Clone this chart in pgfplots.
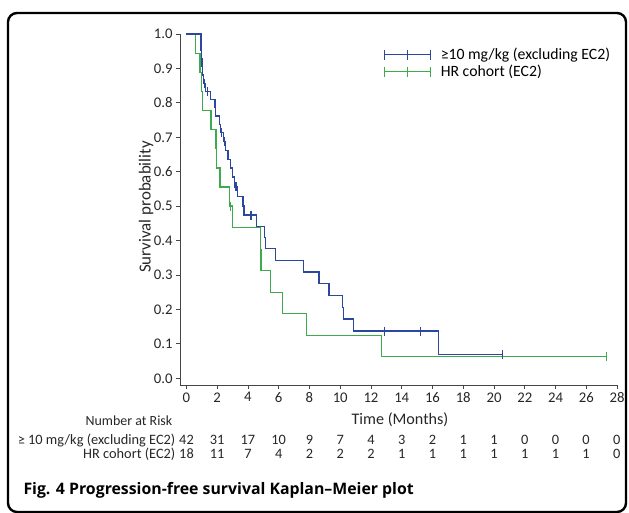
\documentclass[border=0pt]{standalone}
\usepackage{fontspec}
\setmainfont{Carlito}
\newfontfamily\capfont{Open Sans}
\usepackage{pgfplots}
\pgfplotsset{compat=1.18}
\definecolor{kmblue}{RGB}{44,72,158}
\definecolor{kmgreen}{RGB}{62,170,78}
\definecolor{axgray}{RGB}{70,70,70}
\newcommand{\tf}{\fontsize{14.8}{17}\selectfont}
\newcommand{\rf}{\fontsize{14.4}{16}\selectfont}
\begin{document}
\begin{tikzpicture}[x=1bp,y=1bp]
\useasboundingbox (0,0) rectangle (629,513);
\draw[line width=2.4bp, rounded corners=9bp] (8,1) rectangle (626,500);
\begin{axis}[
  at={(180bp,128bp)}, anchor=south west, scale only axis,
  width=437bp, height=351bp,
  xmin=-0.42, xmax=28, ymin=-0.0195, ymax=1,
  axis x line*=bottom, axis y line*=left,
  axis line style={axgray, line width=0.8bp, -},
  tick style={axgray, line width=0.8bp},
  tick align=outside, major tick length=4bp,
  xtick={0,2,4,6,8,10,12,14,16,18,20,22,24,26,28},
  ytick={0,0.1,0.2,0.3,0.4,0.5,0.6,0.7,0.8,0.9,1},
  /pgf/number format/assume math mode=true,
  ticklabel style={font=\tf, text=black!85},
  yticklabel style={/pgf/number format/.cd, fixed, fixed zerofill, precision=1},
  clip=false,
  legend style={draw=none, fill=none, at={(0.46,0.971)}, anchor=north west,
    font=\fontsize{15.8}{18}\selectfont, row sep=0bp},
  legend cell align=left,
]
\addlegendimage{legend image code/.code={\draw[kmblue,line width=1.2bp] (0bp,0bp)--(46bp,0bp) (0bp,-5bp)--(0bp,5bp) (23bp,-5bp)--(23bp,5bp) (46bp,-5bp)--(46bp,5bp); \path[draw=none] (0bp,0bp)--(54bp,0bp);}}
\addlegendentry{≥10 mg/kg (excluding EC2)}
\addlegendimage{legend image code/.code={\draw[kmgreen,line width=1.2bp] (0bp,0bp)--(46bp,0bp) (0bp,-5bp)--(0bp,5bp) (23bp,-5bp)--(23bp,5bp) (46bp,-5bp)--(46bp,5bp); \path[draw=none] (0bp,0bp)--(54bp,0bp);}}
\addlegendentry{HR cohort (EC2)}
% green curve
\addplot[const plot, kmgreen, line width=1.3bp, forget plot] coordinates {
(0,1) (0.57,0.944) (0.88,0.889) (1.0,0.833) (1.03,0.778) (1.6,0.722)
(1.92,0.667) (1.95,0.611) (2.18,0.556) (2.79,0.5) (3.0,0.4375)
(4.8,0.375) (4.85,0.3125) (5.48,0.25) (6.26,0.1875) (7.82,0.125)
(12.7,0.0625) (27.3,0.0625)};
\addplot[only marks, mark=|, mark size=4.5bp, kmgreen, line width=1.2bp, forget plot] coordinates {
(2.87,0.5) (27.3,0.0625)};
% blue curve
\addplot[const plot, kmblue, line width=1.3bp, forget plot] coordinates {
(0,1.0) (0.94,0.952) (0.97,0.929) (1.02,0.905) (1.06,0.881) (1.12,0.857)
(1.25,0.833) (1.55,0.81) (1.85,0.786) (1.9,0.762) (2.13,0.738) (2.2,0.714)
(2.4,0.688) (2.55,0.662) (2.7,0.636) (2.87,0.611) (3.0,0.585) (3.12,0.556)
(3.3,0.527) (3.68,0.500) (3.74,0.474) (4.57,0.441) (5.08,0.408) (5.12,0.377)
(5.8,0.343) (7.6,0.309) (8.62,0.275) (9.27,0.24) (10.14,0.206) (10.22,0.172)
(10.85,0.137) (16.38,0.069) (20.55,0.069)};
\addplot[only marks, mark=|, mark size=4.5bp, kmblue, line width=1.2bp, forget plot] coordinates {
(1.15,0.857) (1.35,0.833) (2.3,0.714) (2.45,0.688) (3.22,0.556) (4.2,0.474)
(5.12,0.39) (12.9,0.137) (15.24,0.137) (20.55,0.069)};
\end{axis}
% y label
\node[rotate=90, font=\fontsize{17}{19}\selectfont, text=black!85] at (146,306) {Survival probability};
% x label
\node[anchor=base, font=\fontsize{16.2}{18}\selectfont, text=black!85] at (400,88) {Time (Months)};
% risk table
\begin{scope}[every node/.style={inner sep=0.5bp, text=black!85}]
\node[anchor=base east, font=\fontsize{14}{16}\selectfont] at (173,87) {Number at Risk};
\node[anchor=base east, font=\rf] at (176,68) {≥ 10 mg/kg (excluding EC2)};
\node[anchor=base east, font=\rf] at (176,54) {HR cohort (EC2)};
\foreach \n [count=\i from 0] in {42,31,17,10,9,7,4,3,2,1,1,0,0,0,0}
  \node[anchor=base, font=\rf] at (186.5+30.74*\i, 68) {\n};
\foreach \n [count=\i from 0] in {18,11,7,4,2,2,2,1,1,1,1,1,1,1,0}
  \node[anchor=base, font=\rf] at (186.5+30.74*\i, 54) {\n};
\end{scope}
% caption
\node[anchor=base west, font=\capfont\bfseries\fontsize{15.9}{19}\selectfont] at (20,18) {Fig. 4 Progression-free survival Kaplan–Meier plot};
\end{tikzpicture}
\end{document}
